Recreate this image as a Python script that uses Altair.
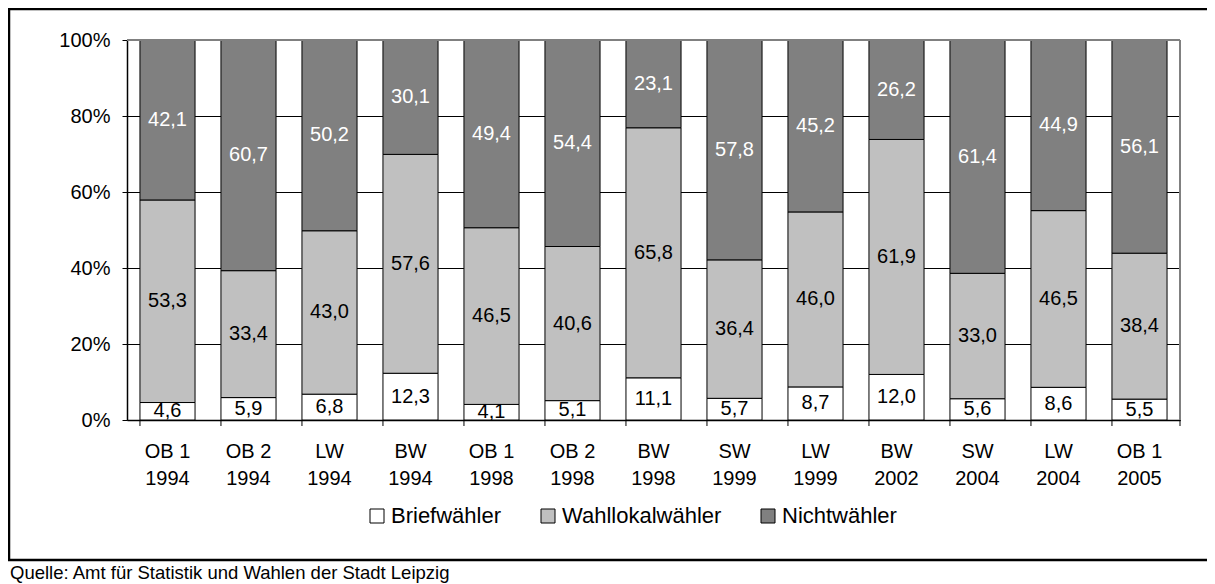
import altair as alt
import pandas as pd

cats = ["OB 1|1994", "OB 2|1994", "LW|1994", "BW|1994", "OB 1|1998", "OB 2|1998",
        "BW|1998", "SW|1999", "LW|1999", "BW|2002", "SW|2004", "LW|2004", "OB 1|2005"]
brief = [4.6, 5.9, 6.8, 12.3, 4.1, 5.1, 11.1, 5.7, 8.7, 12.0, 5.6, 8.6, 5.5]
lokal = [53.3, 33.4, 43.0, 57.6, 46.5, 40.6, 65.8, 36.4, 46.0, 61.9, 33.0, 46.5, 38.4]
nicht = [42.1, 60.7, 50.2, 30.1, 49.4, 54.4, 23.1, 57.8, 45.2, 26.2, 61.4, 44.9, 56.1]
series = ["Briefwähler", "Wahllokalwähler", "Nichtwähler"]
colors = ["#ffffff", "#c0c0c0", "#808080"]
source = "Quelle: Amt für Statistik und Wahlen der Stadt Leipzig"

rows = []
for s_i, (name, vals) in enumerate(zip(series, [brief, lokal, nicht])):
    for c, v in zip(cats, vals):
        rows.append({"cat": c, "series": name, "value": v, "order": s_i,
                     "label": f"{v:.1f}".replace(".", ",")})
df = pd.DataFrame(rows)

W, H = 1053, 380
FONT = "Liberation Sans"

x_axis = alt.Axis(title=None, labelExpr="split(datum.label, '|')", labelAngle=0,
                  labelFontSize=20, labelLineHeight=27, labelBaseline="top",
                  labelPadding=21, ticks=False, tickSize=0, domainColor="black",
                  domainWidth=1.5, labelColor="black", labelFont=FONT)
x_scale = alt.Scale(paddingInner=0.32, paddingOuter=0.16)
y_axis = alt.Axis(title=None, format=".0%", values=[0, 0.2, 0.4, 0.6, 0.8, 1.0],
                  grid=True, gridColor="black", gridWidth=1, tickColor="black",
                  tickSize=5, labelPadding=12, labelFontSize=20, labelColor="black",
                  labelFont=FONT, domainColor="black", domainWidth=1.5)

base = alt.Chart(df).transform_stack(
    stack="value", groupby=["cat"], as_=["v0", "v1"], offset="normalize",
    sort=[alt.SortField("order", order="ascending")]
).transform_calculate(mid="(datum.v0 + datum.v1) / 2")

bars = base.mark_bar(stroke="black", strokeWidth=1).encode(
    x=alt.X("cat:N", sort=cats, scale=x_scale, axis=x_axis),
    y=alt.Y("v0:Q", scale=alt.Scale(domain=[0, 1], nice=False), axis=y_axis),
    y2="v1:Q",
    color=alt.Color("series:N", scale=alt.Scale(domain=series, range=colors),
                    legend=alt.Legend(orient="none", legendX=239, legendY=465,
                                      direction="horizontal", title=None,
                                      symbolType="square", symbolSize=196,
                                      symbolStrokeColor="black", symbolStrokeWidth=1,
                                      labelFontSize=22, labelOffset=3, columnPadding=35,
                                      padding=0, labelFont=FONT, labelColor="black",
                                      labelLimit=400, symbolOpacity=1)),
    order="order:Q",
)

texts = base.mark_text(fontSize=20, font=FONT).encode(
    x=alt.X("cat:N", sort=cats, scale=x_scale, axis=x_axis),
    y=alt.Y("mid:Q"),
    text="label:N",
    color=alt.condition("datum.series == 'Nichtwähler'", alt.value("white"), alt.value("black")),
)

tick_df = pd.DataFrame({"cat": cats})
ticks = alt.Chart(tick_df).mark_rule(color="black", strokeWidth=1).encode(
    x=alt.X("cat:N", sort=cats, scale=x_scale, axis=x_axis, bandPosition=0),
    y=alt.value(H), y2=alt.value(H + 6),
)

one = pd.DataFrame({"a": [0]})
def rule(x1, x2, y1, y2, color, sw):
    return alt.Chart(one).mark_rule(color=color, strokeWidth=sw).encode(
        x=alt.value(x1), x2=alt.value(x2), y=alt.value(y1), y2=alt.value(y2))

end_tick = rule(W, W, H, H + 6, "black", 1)
top_gray = rule(0, W, 0, 0, "#808080", 2)
right_gray = rule(W, W, 0, H, "#808080", 2)
frame_top = rule(-119, 1080, -31, -31, "black", 2.5)
frame_left = rule(-118, -118, -31, 520, "black", 2.5)
frame_bottom = rule(-119, 1080, 520, 520, "black", 2.5)

src = alt.Chart(one).mark_text(align="left", baseline="alphabetic", fontSize=18.5,
                               font=FONT, color="black").encode(
    x=alt.value(-117), y=alt.value(539), text=alt.value(source))

chart = alt.layer(bars, texts, ticks, end_tick, top_gray, right_gray,
                  frame_top, frame_left, frame_bottom, src).properties(
    width=W, height=H,
    padding={"left": 119, "top": 32, "right": 27, "bottom": 164},
    autosize=alt.AutoSizeParams(type="none"),
    background="white",
).configure_view(stroke=None).configure(font=FONT)

chart.save("out.html", embed_options={"renderer": "svg", "actions": False})
